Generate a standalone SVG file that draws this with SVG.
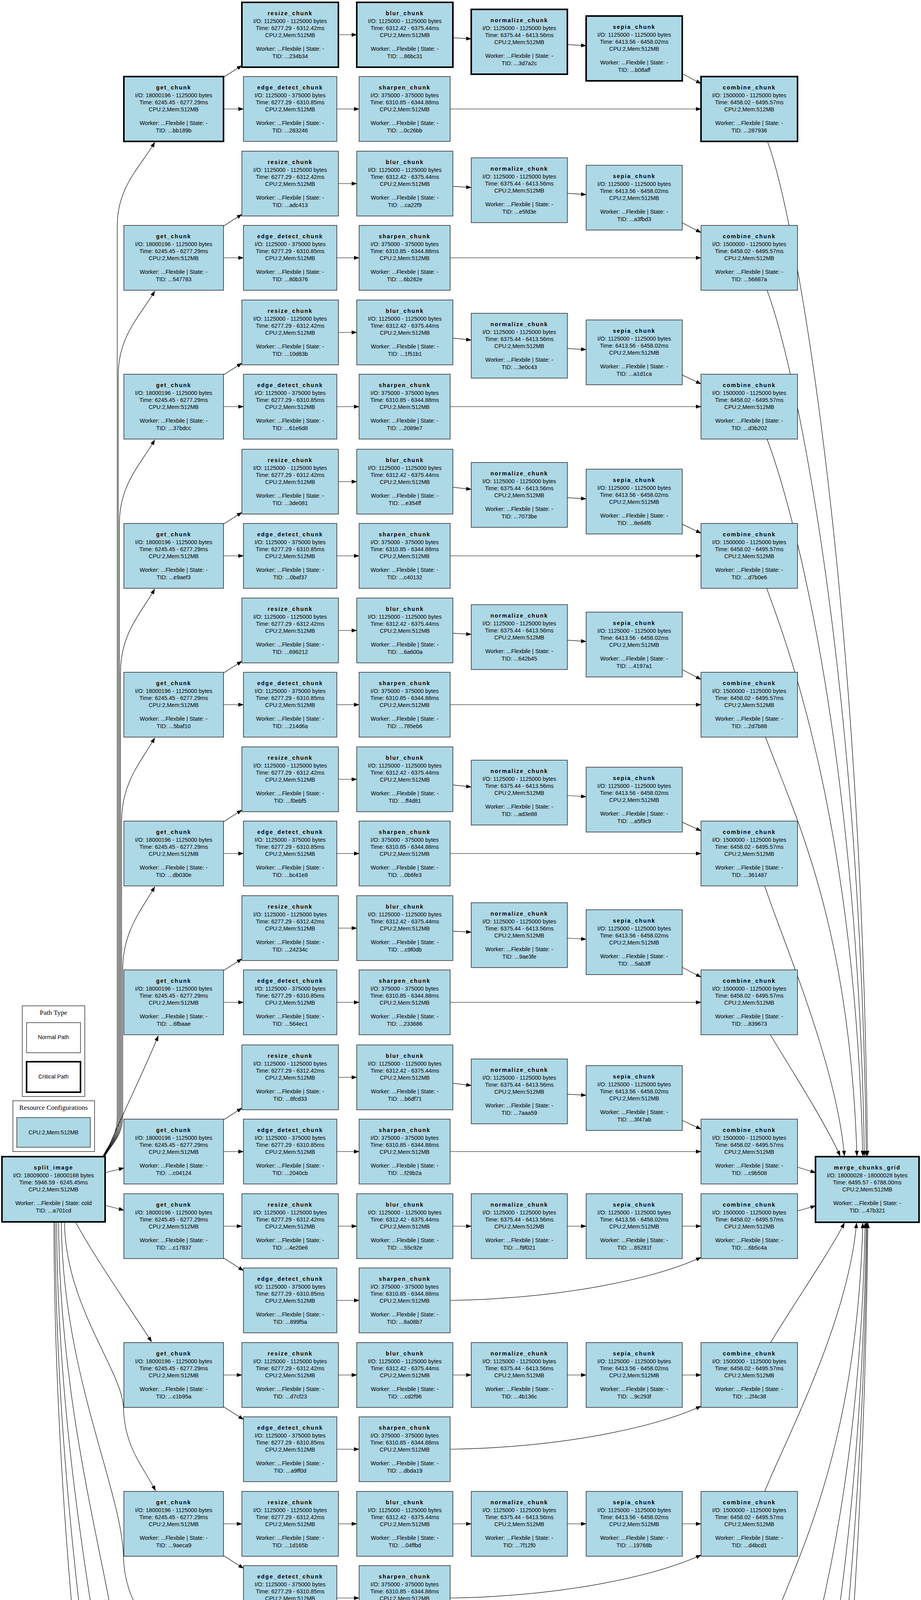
<svg xmlns="http://www.w3.org/2000/svg" width="2357" height="6088" viewBox="0 0 2357 6088">
<defs>
<style>
.n{fill:#add8e6;stroke:#1a1a1a;stroke-width:1.4}
.c{fill:#add8e6;stroke:#000;stroke-width:4}
text{font-family:"Liberation Sans",Arial,Helvetica,sans-serif;font-size:14.4px;text-anchor:middle;fill:#000}
.t{font-weight:bold;letter-spacing:2px}
.lg{font-family:"Liberation Serif","Times New Roman",serif;font-size:17.6px}
.box{fill:#fff;stroke:#000;stroke-width:1.2}
</style>
<marker id="a" viewBox="0 0 14 10" refX="13" refY="5" markerWidth="14" markerHeight="10" markerUnits="userSpaceOnUse" orient="auto"><path d="M0,0 L14,5 L0,10 z" fill="#000" stroke="none"/></marker>
</defs>
<rect width="2357" height="6088" fill="#fff"/>

<g id="legend">
<g id="legend_path_type">
<rect class="box" x="57" y="2575" width="160" height="232"/>
<text class="lg" x="137" y="2598">Path Type</text>
<rect class="box" x="68" y="2618" width="138" height="77"/>
<text x="137" y="2660">Normal Path</text>
<rect x="68" y="2718" width="138" height="78" fill="#fff" stroke="#000" stroke-width="4"/>
<text x="137" y="2761">Critical Path</text>
</g>
<g id="legend_resources">
<rect class="box" x="33" y="2818" width="209" height="130"/>
<text class="lg" x="137" y="2841">Resource Configurations</text>
<rect x="43" y="2861" width="188" height="76" fill="#add8e6" stroke="#000" stroke-width="1.2"/>
<text x="137" y="2904">CPU:2,Mem:512MB</text>
</g>
</g>

<g id="connectors" fill="none" stroke="#000" stroke-width="1.2" marker-end="url(#a)">
<!-- split_image to get_chunk -->
<path d="M263,2961 C275,2935 300,2910 300,2860 L300,577 C300,477 362,424 396,364"/>
<path d="M264,2961 C276,2935 302.8,2910 302.8,2860 L302.8,958 C302.8,858 362,805 396,745"/>
<path d="M265,2961 C277,2935 305.6,2910 305.6,2860 L305.6,1339 C305.6,1239 362,1186 396,1126"/>
<path d="M266,2961 C278,2935 308.4,2910 308.4,2860 L308.4,1721 C308.4,1621 362,1568 396,1508"/>
<path d="M267,2961 C279,2935 311.2,2910 311.2,2860 L311.2,2102 C311.2,2002 362,1949 396,1889"/>
<path d="M268,2961 C280,2935 314,2910 314,2860 L314,2483 C314,2383 362,2330 396,2270"/>
<path d="M268,2960 C300,2880 365,2750 405,2652"/>
<path d="M270,3002 L317,2990"/>
<path d="M270,3086 L317,3098"/>
<path d="M193,3128 C240,3215 330,3345 388,3435"/>
<path d="M165,3128 C167,3342 312,3508 316,3603 C318,3703 365,3753 398,3816"/>
<path d="M157,3128 C159,3514 312,3814 316,3985 C318,4085 365,4135 398,4198"/>
<path d="M150,3128 C152,3685 312,4118 316,4366 C318,4466 365,4516 398,4579"/>
<path d="M145,3128 C147,3857 312,4423 316,4747 C318,4847 365,4897 398,4960"/>
<path d="M141,3128 C143,4028 312,4728 316,5128 C318,5228 365,5278 398,5341"/>
<path d="M138,3128 C140,4200 312,5034 316,5510 C318,5610 365,5660 398,5723"/>
<!-- row 0 -->
<path d="M572,197.7 L619,167.7"/><path d="M572,279 L623,279"/><path d="M866,89 L913,89"/><path d="M862,279 L919,279"/>
<path d="M1159,96.6 L1206,99.4"/><path d="M1452,114.1 L1500,116.9"/><path d="M1746,188.7 L1794,214"/><path d="M1152,279 L1794,279"/>
<!-- row 1 -->
<path d="M572,578.7 L619,548.7"/><path d="M572,660 L623,660"/><path d="M866,470 L913,470"/><path d="M862,660 L919,660"/>
<path d="M1159,477.1 L1206,479.9"/><path d="M1452,494.9 L1500,498.1"/><path d="M1746,570.3 L1794,595.4"/><path d="M1152,660 L1794,660"/>
<!-- row 2 -->
<path d="M572,959.7 L619,929.7"/><path d="M572,1041 L623,1041"/><path d="M866,851 L913,851"/><path d="M862,1041 L919,1041"/>
<path d="M1159,865.3 L1206,870.7"/><path d="M1452,892.1 L1500,894.9"/><path d="M1746,960.1 L1794,982.7"/><path d="M1152,1041 L1794,1041"/>
<!-- row 3 -->
<path d="M572,1341.7 L619,1311.7"/><path d="M572,1423 L623,1423"/><path d="M866,1233 L913,1233"/><path d="M862,1423 L919,1423"/>
<path d="M1159,1247.3 L1206,1252.7"/><path d="M1452,1274.1 L1500,1276.9"/><path d="M1746,1342.1 L1794,1364.7"/><path d="M1152,1423 L1794,1423"/>
<!-- row 4 -->
<path d="M572,1722.7 L619,1692.7"/><path d="M572,1804 L623,1804"/><path d="M866,1614 L913,1614"/><path d="M862,1804 L919,1804"/>
<path d="M1159,1621.1 L1206,1623.9"/><path d="M1452,1638.9 L1500,1642.1"/><path d="M1746,1714.3 L1794,1739.4"/><path d="M1152,1804 L1794,1804"/>
<!-- row 5 -->
<path d="M572,2103.7 L619,2073.7"/><path d="M572,2185 L623,2185"/><path d="M866,1995 L913,1995"/><path d="M862,2185 L919,2185"/>
<path d="M1159,2009.3 L1206,2014.7"/><path d="M1452,2036.5 L1500,2039.5"/><path d="M1746,2104.6 L1794,2127.1"/><path d="M1152,2185 L1794,2185"/>
<!-- row 6 -->
<path d="M572,2484.7 L619,2454.7"/><path d="M572,2566 L623,2566"/><path d="M866,2376 L913,2376"/><path d="M862,2566 L919,2566"/>
<path d="M1159,2383.6 L1206,2386.4"/><path d="M1452,2401.5 L1500,2404.5"/><path d="M1746,2476.3 L1794,2501.4"/><path d="M1152,2566 L1794,2566"/>
<!-- row 7 -->
<path d="M572,2866.7 L619,2836.7"/><path d="M572,2948 L623,2948"/><path d="M866,2758 L913,2758"/><path d="M862,2948 L919,2948"/>
<path d="M1159,2773.1 L1206,2778.9"/><path d="M1452,2801.1 L1500,2803.9"/><path d="M1746,2868.2 L1794,2890.5"/><path d="M1152,2948 L1794,2948"/>
<!-- row 8 -->
<path d="M572,3139 L619,3139"/><path d="M572,3220.3 L623,3252.8"/><path d="M866,3139 L913,3139"/><path d="M1159,3139 L1206,3139"/><path d="M1452,3139 L1500,3139"/><path d="M1746,3139 L1794,3139"/><path d="M862,3329 L919,3329"/><path d="M1152,3329 C1450,3324 1680,3271 1794,3219"/>
<!-- row 9 -->
<path d="M572,3520 L619,3520"/><path d="M572,3601.3 L623,3633.8"/><path d="M866,3520 L913,3520"/><path d="M1159,3520 L1206,3520"/><path d="M1452,3520 L1500,3520"/><path d="M1746,3520 L1794,3520"/><path d="M862,3710 L919,3710"/><path d="M1152,3710 C1450,3705 1680,3652 1794,3600"/>
<!-- row 10 -->
<path d="M572,3901 L619,3901"/><path d="M572,3982.3 L623,4014.8"/><path d="M866,3901 L913,3901"/><path d="M1159,3901 L1206,3901"/><path d="M1452,3901 L1500,3901"/><path d="M1746,3901 L1794,3901"/><path d="M862,4091 L919,4091"/><path d="M1152,4091 C1450,4086 1680,4033 1794,3981"/>
<!-- row 11 -->
<path d="M572,4283 L619,4283"/><path d="M572,4364.3 L623,4396.8"/><path d="M866,4283 L913,4283"/><path d="M1159,4283 L1206,4283"/><path d="M1452,4283 L1500,4283"/><path d="M1746,4283 L1794,4283"/><path d="M862,4473 L919,4473"/><path d="M1152,4473 C1450,4468 1680,4415 1794,4363"/>
<!-- row 12 -->
<path d="M572,4664 L619,4664"/><path d="M572,4745.3 L623,4777.8"/><path d="M866,4664 L913,4664"/><path d="M1159,4664 L1206,4664"/><path d="M1452,4664 L1500,4664"/><path d="M1746,4664 L1794,4664"/><path d="M862,4854 L919,4854"/><path d="M1152,4854 C1450,4849 1680,4796 1794,4744"/>
<!-- row 13 -->
<path d="M572,5045 L619,5045"/><path d="M572,5126.3 L623,5158.8"/><path d="M866,5045 L913,5045"/><path d="M1159,5045 L1206,5045"/><path d="M1452,5045 L1500,5045"/><path d="M1746,5045 L1794,5045"/><path d="M862,5235 L919,5235"/><path d="M1152,5235 C1450,5230 1680,5177 1794,5125"/>
<!-- row 14 -->
<path d="M572,5426 L619,5426"/><path d="M572,5507.3 L623,5539.8"/><path d="M866,5426 L913,5426"/><path d="M1159,5426 L1206,5426"/><path d="M1452,5426 L1500,5426"/><path d="M1746,5426 L1794,5426"/><path d="M862,5616 L919,5616"/><path d="M1152,5616 C1450,5611 1680,5558 1794,5506"/>
<!-- row 15 -->
<path d="M572,5808 L619,5808"/><path d="M572,5889.3 L623,5921.8"/><path d="M866,5808 L913,5808"/><path d="M1159,5808 L1206,5808"/><path d="M1452,5808 L1500,5808"/><path d="M1746,5808 L1794,5808"/><path d="M862,5998 L919,5998"/><path d="M1152,5998 C1450,5993 1680,5940 1794,5888"/>
<!-- combine_chunk to merge_chunks_grid -->
<path d="M1964,362 C2039,562 2207,1531 2220,2959"/>
<path d="M1963,743 C2038,943 2203,1740 2217,2959"/>
<path d="M1963,1124 C2038,1324 2197,1950 2212,2959"/>
<path d="M1962,1506 C2037,1706 2190,2160 2208,2959"/>
<path d="M1959,1887 C2034,2087 2175,2369 2193,2959"/>
<path d="M1957,2268 C2000,2400 2140,2720 2161,2959"/>
<path d="M1972,2650 C2020,2730 2110,2870 2150,2959"/>
<path d="M2041,2988 L2087,3002"/>
<path d="M2041,3100 L2087,3087"/>
<path d="M1972,3437 C2020,3356 2120,3210 2161,3131"/>
<path d="M1957,3818 C2010,3686 2170,3386 2192,3131"/>
<path d="M1960,4200 C2035,4000 2193,3719 2208,3131"/>
<path d="M1962,4581 C2037,4381 2200,3929 2214,3131"/>
<path d="M1963,4962 C2038,4762 2203,4138 2217,3131"/>
<path d="M1963,5343 C2038,5143 2205,4348 2219,3131"/>
<path d="M1964,5725 C2039,5525 2207,4558 2221,3131"/>
</g>

<g id="nodes">
<g id="split_image" transform="translate(5,2961)"><rect class="c" width="264" height="167"/><text class="t" x="132" y="33">split_image</text><text><tspan x="132" y="53">I/O: 18009000 - 18000168 bytes</tspan><tspan x="132" y="71">Time: 5946.59 - 6245.45ms</tspan><tspan x="132" y="88.5">CPU:2,Mem:512MB</tspan><tspan x="132" y="124">Worker: ...Flexbile | State: cold</tspan><tspan x="132" y="142.5">TID: ...a701cd</tspan></text></g>
<g id="merge_chunks_grid" transform="translate(2087,2961)"><rect class="c" width="265" height="168"/><text class="t" x="132.5" y="33">merge_chunks_grid</text><text><tspan x="132.5" y="53">I/O: 18000028 - 18000028 bytes</tspan><tspan x="132.5" y="71">Time: 6495.57 - 6788.00ms</tspan><tspan x="132.5" y="88.5">CPU:2,Mem:512MB</tspan><tspan x="132.5" y="124">Worker: ...Flexbile | State: -</tspan><tspan x="132.5" y="142.5">TID: ...47b321</tspan></text></g>

<!-- ROW 0 -->
<g id="get_chunk_0" transform="translate(317,196)"><rect class="c" width="255" height="166"/><text class="t" x="127.5" y="33">get_chunk</text><text><tspan x="127.5" y="53">I/O: 18000196 - 1125000 bytes</tspan><tspan x="127.5" y="71">Time: 6245.45 - 6277.29ms</tspan><tspan x="127.5" y="88.5">CPU:2,Mem:512MB</tspan><tspan x="127.5" y="124">Worker: ...Flexbile | State: -</tspan><tspan x="127.5" y="142.5">TID: ...bb189b</tspan></text></g>
<g id="resize_chunk_0" transform="translate(619,6)"><rect class="c" width="247" height="166"/><text class="t" x="123.5" y="33">resize_chunk</text><text><tspan x="123.5" y="53">I/O: 1125000 - 1125000 bytes</tspan><tspan x="123.5" y="71">Time: 6277.29 - 6312.42ms</tspan><tspan x="123.5" y="88.5">CPU:2,Mem:512MB</tspan><tspan x="123.5" y="124">Worker: ...Flexbile | State: -</tspan><tspan x="123.5" y="142.5">TID: ...234b34</tspan></text></g>
<g id="edge_detect_chunk_0" transform="translate(623,196)"><rect class="n" width="239" height="166"/><text class="t" x="119.5" y="33">edge_detect_chunk</text><text><tspan x="119.5" y="53">I/O: 1125000 - 375000 bytes</tspan><tspan x="119.5" y="71">Time: 6277.29 - 6310.85ms</tspan><tspan x="119.5" y="88.5">CPU:2,Mem:512MB</tspan><tspan x="119.5" y="124">Worker: ...Flexbile | State: -</tspan><tspan x="119.5" y="142.5">TID: ...283246</tspan></text></g>
<g id="blur_chunk_0" transform="translate(913,6)"><rect class="c" width="246" height="166"/><text class="t" x="123" y="33">blur_chunk</text><text><tspan x="123" y="53">I/O: 1125000 - 1125000 bytes</tspan><tspan x="123" y="71">Time: 6312.42 - 6375.44ms</tspan><tspan x="123" y="88.5">CPU:2,Mem:512MB</tspan><tspan x="123" y="124">Worker: ...Flexbile | State: -</tspan><tspan x="123" y="142.5">TID: ...86bc31</tspan></text></g>
<g id="sharpen_chunk_0" transform="translate(919,196)"><rect class="n" width="233" height="166"/><text class="t" x="116.5" y="33">sharpen_chunk</text><text><tspan x="116.5" y="53">I/O: 375000 - 375000 bytes</tspan><tspan x="116.5" y="71">Time: 6310.85 - 6344.88ms</tspan><tspan x="116.5" y="88.5">CPU:2,Mem:512MB</tspan><tspan x="116.5" y="124">Worker: ...Flexbile | State: -</tspan><tspan x="116.5" y="142.5">TID: ...0c26bb</tspan></text></g>
<g id="normalize_chunk_0" transform="translate(1206,24)"><rect class="c" width="246" height="166"/><text class="t" x="123" y="33">normalize_chunk</text><text><tspan x="123" y="53">I/O: 1125000 - 1125000 bytes</tspan><tspan x="123" y="71">Time: 6375.44 - 6413.56ms</tspan><tspan x="123" y="88.5">CPU:2,Mem:512MB</tspan><tspan x="123" y="124">Worker: ...Flexbile | State: -</tspan><tspan x="123" y="142.5">TID: ...3d7a2c</tspan></text></g>
<g id="sepia_chunk_0" transform="translate(1500,41)"><rect class="c" width="246" height="166"/><text class="t" x="123" y="33">sepia_chunk</text><text><tspan x="123" y="53">I/O: 1125000 - 1125000 bytes</tspan><tspan x="123" y="71">Time: 6413.56 - 6458.02ms</tspan><tspan x="123" y="88.5">CPU:2,Mem:512MB</tspan><tspan x="123" y="124">Worker: ...Flexbile | State: -</tspan><tspan x="123" y="142.5">TID: ...b08aff</tspan></text></g>
<g id="combine_chunk_0" transform="translate(1794,196)"><rect class="c" width="247" height="166"/><text class="t" x="123.5" y="33">combine_chunk</text><text><tspan x="123.5" y="53">I/O: 1500000 - 1125000 bytes</tspan><tspan x="123.5" y="71">Time: 6458.02 - 6495.57ms</tspan><tspan x="123.5" y="88.5">CPU:2,Mem:512MB</tspan><tspan x="123.5" y="124">Worker: ...Flexbile | State: -</tspan><tspan x="123.5" y="142.5">TID: ...287936</tspan></text></g>

<!-- ROW 1 -->
<g id="get_chunk_1" transform="translate(317,577)"><rect class="n" width="255" height="166"/><text class="t" x="127.5" y="33">get_chunk</text><text><tspan x="127.5" y="53">I/O: 18000196 - 1125000 bytes</tspan><tspan x="127.5" y="71">Time: 6245.45 - 6277.29ms</tspan><tspan x="127.5" y="88.5">CPU:2,Mem:512MB</tspan><tspan x="127.5" y="124">Worker: ...Flexbile | State: -</tspan><tspan x="127.5" y="142.5">TID: ...547783</tspan></text></g>
<g id="resize_chunk_1" transform="translate(619,387)"><rect class="n" width="247" height="166"/><text class="t" x="123.5" y="33">resize_chunk</text><text><tspan x="123.5" y="53">I/O: 1125000 - 1125000 bytes</tspan><tspan x="123.5" y="71">Time: 6277.29 - 6312.42ms</tspan><tspan x="123.5" y="88.5">CPU:2,Mem:512MB</tspan><tspan x="123.5" y="124">Worker: ...Flexbile | State: -</tspan><tspan x="123.5" y="142.5">TID: ...adc413</tspan></text></g>
<g id="edge_detect_chunk_1" transform="translate(623,577)"><rect class="n" width="239" height="166"/><text class="t" x="119.5" y="33">edge_detect_chunk</text><text><tspan x="119.5" y="53">I/O: 1125000 - 375000 bytes</tspan><tspan x="119.5" y="71">Time: 6277.29 - 6310.85ms</tspan><tspan x="119.5" y="88.5">CPU:2,Mem:512MB</tspan><tspan x="119.5" y="124">Worker: ...Flexbile | State: -</tspan><tspan x="119.5" y="142.5">TID: ...80b376</tspan></text></g>
<g id="blur_chunk_1" transform="translate(913,387)"><rect class="n" width="246" height="166"/><text class="t" x="123" y="33">blur_chunk</text><text><tspan x="123" y="53">I/O: 1125000 - 1125000 bytes</tspan><tspan x="123" y="71">Time: 6312.42 - 6375.44ms</tspan><tspan x="123" y="88.5">CPU:2,Mem:512MB</tspan><tspan x="123" y="124">Worker: ...Flexbile | State: -</tspan><tspan x="123" y="142.5">TID: ...ca22f9</tspan></text></g>
<g id="sharpen_chunk_1" transform="translate(919,577)"><rect class="n" width="233" height="166"/><text class="t" x="116.5" y="33">sharpen_chunk</text><text><tspan x="116.5" y="53">I/O: 375000 - 375000 bytes</tspan><tspan x="116.5" y="71">Time: 6310.85 - 6344.88ms</tspan><tspan x="116.5" y="88.5">CPU:2,Mem:512MB</tspan><tspan x="116.5" y="124">Worker: ...Flexbile | State: -</tspan><tspan x="116.5" y="142.5">TID: ...6b282e</tspan></text></g>
<g id="normalize_chunk_1" transform="translate(1206,404)"><rect class="n" width="246" height="166"/><text class="t" x="123" y="33">normalize_chunk</text><text><tspan x="123" y="53">I/O: 1125000 - 1125000 bytes</tspan><tspan x="123" y="71">Time: 6375.44 - 6413.56ms</tspan><tspan x="123" y="88.5">CPU:2,Mem:512MB</tspan><tspan x="123" y="124">Worker: ...Flexbile | State: -</tspan><tspan x="123" y="142.5">TID: ...e5fd3e</tspan></text></g>
<g id="sepia_chunk_1" transform="translate(1500,423)"><rect class="n" width="246" height="166"/><text class="t" x="123" y="33">sepia_chunk</text><text><tspan x="123" y="53">I/O: 1125000 - 1125000 bytes</tspan><tspan x="123" y="71">Time: 6413.56 - 6458.02ms</tspan><tspan x="123" y="88.5">CPU:2,Mem:512MB</tspan><tspan x="123" y="124">Worker: ...Flexbile | State: -</tspan><tspan x="123" y="142.5">TID: ...a3fbd3</tspan></text></g>
<g id="combine_chunk_1" transform="translate(1794,577)"><rect class="n" width="247" height="166"/><text class="t" x="123.5" y="33">combine_chunk</text><text><tspan x="123.5" y="53">I/O: 1500000 - 1125000 bytes</tspan><tspan x="123.5" y="71">Time: 6458.02 - 6495.57ms</tspan><tspan x="123.5" y="88.5">CPU:2,Mem:512MB</tspan><tspan x="123.5" y="124">Worker: ...Flexbile | State: -</tspan><tspan x="123.5" y="142.5">TID: ...56887a</tspan></text></g>

<!-- ROW 2 -->
<g id="get_chunk_2" transform="translate(317,958)"><rect class="n" width="255" height="166"/><text class="t" x="127.5" y="33">get_chunk</text><text><tspan x="127.5" y="53">I/O: 18000196 - 1125000 bytes</tspan><tspan x="127.5" y="71">Time: 6245.45 - 6277.29ms</tspan><tspan x="127.5" y="88.5">CPU:2,Mem:512MB</tspan><tspan x="127.5" y="124">Worker: ...Flexbile | State: -</tspan><tspan x="127.5" y="142.5">TID: ...37bdcc</tspan></text></g>
<g id="resize_chunk_2" transform="translate(619,768)"><rect class="n" width="247" height="166"/><text class="t" x="123.5" y="33">resize_chunk</text><text><tspan x="123.5" y="53">I/O: 1125000 - 1125000 bytes</tspan><tspan x="123.5" y="71">Time: 6277.29 - 6312.42ms</tspan><tspan x="123.5" y="88.5">CPU:2,Mem:512MB</tspan><tspan x="123.5" y="124">Worker: ...Flexbile | State: -</tspan><tspan x="123.5" y="142.5">TID: ...10d83b</tspan></text></g>
<g id="edge_detect_chunk_2" transform="translate(623,958)"><rect class="n" width="239" height="166"/><text class="t" x="119.5" y="33">edge_detect_chunk</text><text><tspan x="119.5" y="53">I/O: 1125000 - 375000 bytes</tspan><tspan x="119.5" y="71">Time: 6277.29 - 6310.85ms</tspan><tspan x="119.5" y="88.5">CPU:2,Mem:512MB</tspan><tspan x="119.5" y="124">Worker: ...Flexbile | State: -</tspan><tspan x="119.5" y="142.5">TID: ...61e6d8</tspan></text></g>
<g id="blur_chunk_2" transform="translate(913,768)"><rect class="n" width="246" height="166"/><text class="t" x="123" y="33">blur_chunk</text><text><tspan x="123" y="53">I/O: 1125000 - 1125000 bytes</tspan><tspan x="123" y="71">Time: 6312.42 - 6375.44ms</tspan><tspan x="123" y="88.5">CPU:2,Mem:512MB</tspan><tspan x="123" y="124">Worker: ...Flexbile | State: -</tspan><tspan x="123" y="142.5">TID: ...1f51b1</tspan></text></g>
<g id="sharpen_chunk_2" transform="translate(919,958)"><rect class="n" width="233" height="166"/><text class="t" x="116.5" y="33">sharpen_chunk</text><text><tspan x="116.5" y="53">I/O: 375000 - 375000 bytes</tspan><tspan x="116.5" y="71">Time: 6310.85 - 6344.88ms</tspan><tspan x="116.5" y="88.5">CPU:2,Mem:512MB</tspan><tspan x="116.5" y="124">Worker: ...Flexbile | State: -</tspan><tspan x="116.5" y="142.5">TID: ...2089e7</tspan></text></g>
<g id="normalize_chunk_2" transform="translate(1206,802)"><rect class="n" width="246" height="166"/><text class="t" x="123" y="33">normalize_chunk</text><text><tspan x="123" y="53">I/O: 1125000 - 1125000 bytes</tspan><tspan x="123" y="71">Time: 6375.44 - 6413.56ms</tspan><tspan x="123" y="88.5">CPU:2,Mem:512MB</tspan><tspan x="123" y="124">Worker: ...Flexbile | State: -</tspan><tspan x="123" y="142.5">TID: ...3e0c43</tspan></text></g>
<g id="sepia_chunk_2" transform="translate(1500,819)"><rect class="n" width="246" height="166"/><text class="t" x="123" y="33">sepia_chunk</text><text><tspan x="123" y="53">I/O: 1125000 - 1125000 bytes</tspan><tspan x="123" y="71">Time: 6413.56 - 6458.02ms</tspan><tspan x="123" y="88.5">CPU:2,Mem:512MB</tspan><tspan x="123" y="124">Worker: ...Flexbile | State: -</tspan><tspan x="123" y="142.5">TID: ...a1d1ca</tspan></text></g>
<g id="combine_chunk_2" transform="translate(1794,958)"><rect class="n" width="247" height="166"/><text class="t" x="123.5" y="33">combine_chunk</text><text><tspan x="123.5" y="53">I/O: 1500000 - 1125000 bytes</tspan><tspan x="123.5" y="71">Time: 6458.02 - 6495.57ms</tspan><tspan x="123.5" y="88.5">CPU:2,Mem:512MB</tspan><tspan x="123.5" y="124">Worker: ...Flexbile | State: -</tspan><tspan x="123.5" y="142.5">TID: ...d3b202</tspan></text></g>

<!-- ROW 3 -->
<g id="get_chunk_3" transform="translate(317,1340)"><rect class="n" width="255" height="166"/><text class="t" x="127.5" y="33">get_chunk</text><text><tspan x="127.5" y="53">I/O: 18000196 - 1125000 bytes</tspan><tspan x="127.5" y="71">Time: 6245.45 - 6277.29ms</tspan><tspan x="127.5" y="88.5">CPU:2,Mem:512MB</tspan><tspan x="127.5" y="124">Worker: ...Flexbile | State: -</tspan><tspan x="127.5" y="142.5">TID: ...e9aef3</tspan></text></g>
<g id="resize_chunk_3" transform="translate(619,1150)"><rect class="n" width="247" height="166"/><text class="t" x="123.5" y="33">resize_chunk</text><text><tspan x="123.5" y="53">I/O: 1125000 - 1125000 bytes</tspan><tspan x="123.5" y="71">Time: 6277.29 - 6312.42ms</tspan><tspan x="123.5" y="88.5">CPU:2,Mem:512MB</tspan><tspan x="123.5" y="124">Worker: ...Flexbile | State: -</tspan><tspan x="123.5" y="142.5">TID: ...3de081</tspan></text></g>
<g id="edge_detect_chunk_3" transform="translate(623,1340)"><rect class="n" width="239" height="166"/><text class="t" x="119.5" y="33">edge_detect_chunk</text><text><tspan x="119.5" y="53">I/O: 1125000 - 375000 bytes</tspan><tspan x="119.5" y="71">Time: 6277.29 - 6310.85ms</tspan><tspan x="119.5" y="88.5">CPU:2,Mem:512MB</tspan><tspan x="119.5" y="124">Worker: ...Flexbile | State: -</tspan><tspan x="119.5" y="142.5">TID: ...0baf37</tspan></text></g>
<g id="blur_chunk_3" transform="translate(913,1150)"><rect class="n" width="246" height="166"/><text class="t" x="123" y="33">blur_chunk</text><text><tspan x="123" y="53">I/O: 1125000 - 1125000 bytes</tspan><tspan x="123" y="71">Time: 6312.42 - 6375.44ms</tspan><tspan x="123" y="88.5">CPU:2,Mem:512MB</tspan><tspan x="123" y="124">Worker: ...Flexbile | State: -</tspan><tspan x="123" y="142.5">TID: ...e354ff</tspan></text></g>
<g id="sharpen_chunk_3" transform="translate(919,1340)"><rect class="n" width="233" height="166"/><text class="t" x="116.5" y="33">sharpen_chunk</text><text><tspan x="116.5" y="53">I/O: 375000 - 375000 bytes</tspan><tspan x="116.5" y="71">Time: 6310.85 - 6344.88ms</tspan><tspan x="116.5" y="88.5">CPU:2,Mem:512MB</tspan><tspan x="116.5" y="124">Worker: ...Flexbile | State: -</tspan><tspan x="116.5" y="142.5">TID: ...c40132</tspan></text></g>
<g id="normalize_chunk_3" transform="translate(1206,1184)"><rect class="n" width="246" height="166"/><text class="t" x="123" y="33">normalize_chunk</text><text><tspan x="123" y="53">I/O: 1125000 - 1125000 bytes</tspan><tspan x="123" y="71">Time: 6375.44 - 6413.56ms</tspan><tspan x="123" y="88.5">CPU:2,Mem:512MB</tspan><tspan x="123" y="124">Worker: ...Flexbile | State: -</tspan><tspan x="123" y="142.5">TID: ...7073be</tspan></text></g>
<g id="sepia_chunk_3" transform="translate(1500,1201)"><rect class="n" width="246" height="166"/><text class="t" x="123" y="33">sepia_chunk</text><text><tspan x="123" y="53">I/O: 1125000 - 1125000 bytes</tspan><tspan x="123" y="71">Time: 6413.56 - 6458.02ms</tspan><tspan x="123" y="88.5">CPU:2,Mem:512MB</tspan><tspan x="123" y="124">Worker: ...Flexbile | State: -</tspan><tspan x="123" y="142.5">TID: ...8e84f6</tspan></text></g>
<g id="combine_chunk_3" transform="translate(1794,1340)"><rect class="n" width="247" height="166"/><text class="t" x="123.5" y="33">combine_chunk</text><text><tspan x="123.5" y="53">I/O: 1500000 - 1125000 bytes</tspan><tspan x="123.5" y="71">Time: 6458.02 - 6495.57ms</tspan><tspan x="123.5" y="88.5">CPU:2,Mem:512MB</tspan><tspan x="123.5" y="124">Worker: ...Flexbile | State: -</tspan><tspan x="123.5" y="142.5">TID: ...d7b0e6</tspan></text></g>

<!-- ROW 4 -->
<g id="get_chunk_4" transform="translate(317,1721)"><rect class="n" width="255" height="166"/><text class="t" x="127.5" y="33">get_chunk</text><text><tspan x="127.5" y="53">I/O: 18000196 - 1125000 bytes</tspan><tspan x="127.5" y="71">Time: 6245.45 - 6277.29ms</tspan><tspan x="127.5" y="88.5">CPU:2,Mem:512MB</tspan><tspan x="127.5" y="124">Worker: ...Flexbile | State: -</tspan><tspan x="127.5" y="142.5">TID: ...5baf10</tspan></text></g>
<g id="resize_chunk_4" transform="translate(619,1531)"><rect class="n" width="247" height="166"/><text class="t" x="123.5" y="33">resize_chunk</text><text><tspan x="123.5" y="53">I/O: 1125000 - 1125000 bytes</tspan><tspan x="123.5" y="71">Time: 6277.29 - 6312.42ms</tspan><tspan x="123.5" y="88.5">CPU:2,Mem:512MB</tspan><tspan x="123.5" y="124">Worker: ...Flexbile | State: -</tspan><tspan x="123.5" y="142.5">TID: ...696212</tspan></text></g>
<g id="edge_detect_chunk_4" transform="translate(623,1721)"><rect class="n" width="239" height="166"/><text class="t" x="119.5" y="33">edge_detect_chunk</text><text><tspan x="119.5" y="53">I/O: 1125000 - 375000 bytes</tspan><tspan x="119.5" y="71">Time: 6277.29 - 6310.85ms</tspan><tspan x="119.5" y="88.5">CPU:2,Mem:512MB</tspan><tspan x="119.5" y="124">Worker: ...Flexbile | State: -</tspan><tspan x="119.5" y="142.5">TID: ...214d6a</tspan></text></g>
<g id="blur_chunk_4" transform="translate(913,1531)"><rect class="n" width="246" height="166"/><text class="t" x="123" y="33">blur_chunk</text><text><tspan x="123" y="53">I/O: 1125000 - 1125000 bytes</tspan><tspan x="123" y="71">Time: 6312.42 - 6375.44ms</tspan><tspan x="123" y="88.5">CPU:2,Mem:512MB</tspan><tspan x="123" y="124">Worker: ...Flexbile | State: -</tspan><tspan x="123" y="142.5">TID: ...6a600a</tspan></text></g>
<g id="sharpen_chunk_4" transform="translate(919,1721)"><rect class="n" width="233" height="166"/><text class="t" x="116.5" y="33">sharpen_chunk</text><text><tspan x="116.5" y="53">I/O: 375000 - 375000 bytes</tspan><tspan x="116.5" y="71">Time: 6310.85 - 6344.88ms</tspan><tspan x="116.5" y="88.5">CPU:2,Mem:512MB</tspan><tspan x="116.5" y="124">Worker: ...Flexbile | State: -</tspan><tspan x="116.5" y="142.5">TID: ...785eb6</tspan></text></g>
<g id="normalize_chunk_4" transform="translate(1206,1548)"><rect class="n" width="246" height="166"/><text class="t" x="123" y="33">normalize_chunk</text><text><tspan x="123" y="53">I/O: 1125000 - 1125000 bytes</tspan><tspan x="123" y="71">Time: 6375.44 - 6413.56ms</tspan><tspan x="123" y="88.5">CPU:2,Mem:512MB</tspan><tspan x="123" y="124">Worker: ...Flexbile | State: -</tspan><tspan x="123" y="142.5">TID: ...642b45</tspan></text></g>
<g id="sepia_chunk_4" transform="translate(1500,1567)"><rect class="n" width="246" height="166"/><text class="t" x="123" y="33">sepia_chunk</text><text><tspan x="123" y="53">I/O: 1125000 - 1125000 bytes</tspan><tspan x="123" y="71">Time: 6413.56 - 6458.02ms</tspan><tspan x="123" y="88.5">CPU:2,Mem:512MB</tspan><tspan x="123" y="124">Worker: ...Flexbile | State: -</tspan><tspan x="123" y="142.5">TID: ...4197a1</tspan></text></g>
<g id="combine_chunk_4" transform="translate(1794,1721)"><rect class="n" width="247" height="166"/><text class="t" x="123.5" y="33">combine_chunk</text><text><tspan x="123.5" y="53">I/O: 1500000 - 1125000 bytes</tspan><tspan x="123.5" y="71">Time: 6458.02 - 6495.57ms</tspan><tspan x="123.5" y="88.5">CPU:2,Mem:512MB</tspan><tspan x="123.5" y="124">Worker: ...Flexbile | State: -</tspan><tspan x="123.5" y="142.5">TID: ...2d7b88</tspan></text></g>

<!-- ROW 5 -->
<g id="get_chunk_5" transform="translate(317,2102)"><rect class="n" width="255" height="166"/><text class="t" x="127.5" y="33">get_chunk</text><text><tspan x="127.5" y="53">I/O: 18000196 - 1125000 bytes</tspan><tspan x="127.5" y="71">Time: 6245.45 - 6277.29ms</tspan><tspan x="127.5" y="88.5">CPU:2,Mem:512MB</tspan><tspan x="127.5" y="124">Worker: ...Flexbile | State: -</tspan><tspan x="127.5" y="142.5">TID: ...db030e</tspan></text></g>
<g id="resize_chunk_5" transform="translate(619,1912)"><rect class="n" width="247" height="166"/><text class="t" x="123.5" y="33">resize_chunk</text><text><tspan x="123.5" y="53">I/O: 1125000 - 1125000 bytes</tspan><tspan x="123.5" y="71">Time: 6277.29 - 6312.42ms</tspan><tspan x="123.5" y="88.5">CPU:2,Mem:512MB</tspan><tspan x="123.5" y="124">Worker: ...Flexbile | State: -</tspan><tspan x="123.5" y="142.5">TID: ...f0ebf5</tspan></text></g>
<g id="edge_detect_chunk_5" transform="translate(623,2102)"><rect class="n" width="239" height="166"/><text class="t" x="119.5" y="33">edge_detect_chunk</text><text><tspan x="119.5" y="53">I/O: 1125000 - 375000 bytes</tspan><tspan x="119.5" y="71">Time: 6277.29 - 6310.85ms</tspan><tspan x="119.5" y="88.5">CPU:2,Mem:512MB</tspan><tspan x="119.5" y="124">Worker: ...Flexbile | State: -</tspan><tspan x="119.5" y="142.5">TID: ...bc41e8</tspan></text></g>
<g id="blur_chunk_5" transform="translate(913,1912)"><rect class="n" width="246" height="166"/><text class="t" x="123" y="33">blur_chunk</text><text><tspan x="123" y="53">I/O: 1125000 - 1125000 bytes</tspan><tspan x="123" y="71">Time: 6312.42 - 6375.44ms</tspan><tspan x="123" y="88.5">CPU:2,Mem:512MB</tspan><tspan x="123" y="124">Worker: ...Flexbile | State: -</tspan><tspan x="123" y="142.5">TID: ...ff4d81</tspan></text></g>
<g id="sharpen_chunk_5" transform="translate(919,2102)"><rect class="n" width="233" height="166"/><text class="t" x="116.5" y="33">sharpen_chunk</text><text><tspan x="116.5" y="53">I/O: 375000 - 375000 bytes</tspan><tspan x="116.5" y="71">Time: 6310.85 - 6344.88ms</tspan><tspan x="116.5" y="88.5">CPU:2,Mem:512MB</tspan><tspan x="116.5" y="124">Worker: ...Flexbile | State: -</tspan><tspan x="116.5" y="142.5">TID: ...0b6fe3</tspan></text></g>
<g id="normalize_chunk_5" transform="translate(1206,1946)"><rect class="n" width="246" height="166"/><text class="t" x="123" y="33">normalize_chunk</text><text><tspan x="123" y="53">I/O: 1125000 - 1125000 bytes</tspan><tspan x="123" y="71">Time: 6375.44 - 6413.56ms</tspan><tspan x="123" y="88.5">CPU:2,Mem:512MB</tspan><tspan x="123" y="124">Worker: ...Flexbile | State: -</tspan><tspan x="123" y="142.5">TID: ...ad3e88</tspan></text></g>
<g id="sepia_chunk_5" transform="translate(1500,1964)"><rect class="n" width="246" height="166"/><text class="t" x="123" y="33">sepia_chunk</text><text><tspan x="123" y="53">I/O: 1125000 - 1125000 bytes</tspan><tspan x="123" y="71">Time: 6413.56 - 6458.02ms</tspan><tspan x="123" y="88.5">CPU:2,Mem:512MB</tspan><tspan x="123" y="124">Worker: ...Flexbile | State: -</tspan><tspan x="123" y="142.5">TID: ...a5f9c9</tspan></text></g>
<g id="combine_chunk_5" transform="translate(1794,2102)"><rect class="n" width="247" height="166"/><text class="t" x="123.5" y="33">combine_chunk</text><text><tspan x="123.5" y="53">I/O: 1500000 - 1125000 bytes</tspan><tspan x="123.5" y="71">Time: 6458.02 - 6495.57ms</tspan><tspan x="123.5" y="88.5">CPU:2,Mem:512MB</tspan><tspan x="123.5" y="124">Worker: ...Flexbile | State: -</tspan><tspan x="123.5" y="142.5">TID: ...361487</tspan></text></g>

<!-- ROW 6 -->
<g id="get_chunk_6" transform="translate(317,2483)"><rect class="n" width="255" height="166"/><text class="t" x="127.5" y="33">get_chunk</text><text><tspan x="127.5" y="53">I/O: 18000196 - 1125000 bytes</tspan><tspan x="127.5" y="71">Time: 6245.45 - 6277.29ms</tspan><tspan x="127.5" y="88.5">CPU:2,Mem:512MB</tspan><tspan x="127.5" y="124">Worker: ...Flexbile | State: -</tspan><tspan x="127.5" y="142.5">TID: ...6fbaae</tspan></text></g>
<g id="resize_chunk_6" transform="translate(619,2293)"><rect class="n" width="247" height="166"/><text class="t" x="123.5" y="33">resize_chunk</text><text><tspan x="123.5" y="53">I/O: 1125000 - 1125000 bytes</tspan><tspan x="123.5" y="71">Time: 6277.29 - 6312.42ms</tspan><tspan x="123.5" y="88.5">CPU:2,Mem:512MB</tspan><tspan x="123.5" y="124">Worker: ...Flexbile | State: -</tspan><tspan x="123.5" y="142.5">TID: ...24234c</tspan></text></g>
<g id="edge_detect_chunk_6" transform="translate(623,2483)"><rect class="n" width="239" height="166"/><text class="t" x="119.5" y="33">edge_detect_chunk</text><text><tspan x="119.5" y="53">I/O: 1125000 - 375000 bytes</tspan><tspan x="119.5" y="71">Time: 6277.29 - 6310.85ms</tspan><tspan x="119.5" y="88.5">CPU:2,Mem:512MB</tspan><tspan x="119.5" y="124">Worker: ...Flexbile | State: -</tspan><tspan x="119.5" y="142.5">TID: ...564ec1</tspan></text></g>
<g id="blur_chunk_6" transform="translate(913,2293)"><rect class="n" width="246" height="166"/><text class="t" x="123" y="33">blur_chunk</text><text><tspan x="123" y="53">I/O: 1125000 - 1125000 bytes</tspan><tspan x="123" y="71">Time: 6312.42 - 6375.44ms</tspan><tspan x="123" y="88.5">CPU:2,Mem:512MB</tspan><tspan x="123" y="124">Worker: ...Flexbile | State: -</tspan><tspan x="123" y="142.5">TID: ...c9f0db</tspan></text></g>
<g id="sharpen_chunk_6" transform="translate(919,2483)"><rect class="n" width="233" height="166"/><text class="t" x="116.5" y="33">sharpen_chunk</text><text><tspan x="116.5" y="53">I/O: 375000 - 375000 bytes</tspan><tspan x="116.5" y="71">Time: 6310.85 - 6344.88ms</tspan><tspan x="116.5" y="88.5">CPU:2,Mem:512MB</tspan><tspan x="116.5" y="124">Worker: ...Flexbile | State: -</tspan><tspan x="116.5" y="142.5">TID: ...233686</tspan></text></g>
<g id="normalize_chunk_6" transform="translate(1206,2311)"><rect class="n" width="246" height="166"/><text class="t" x="123" y="33">normalize_chunk</text><text><tspan x="123" y="53">I/O: 1125000 - 1125000 bytes</tspan><tspan x="123" y="71">Time: 6375.44 - 6413.56ms</tspan><tspan x="123" y="88.5">CPU:2,Mem:512MB</tspan><tspan x="123" y="124">Worker: ...Flexbile | State: -</tspan><tspan x="123" y="142.5">TID: ...9ae3fe</tspan></text></g>
<g id="sepia_chunk_6" transform="translate(1500,2329)"><rect class="n" width="246" height="166"/><text class="t" x="123" y="33">sepia_chunk</text><text><tspan x="123" y="53">I/O: 1125000 - 1125000 bytes</tspan><tspan x="123" y="71">Time: 6413.56 - 6458.02ms</tspan><tspan x="123" y="88.5">CPU:2,Mem:512MB</tspan><tspan x="123" y="124">Worker: ...Flexbile | State: -</tspan><tspan x="123" y="142.5">TID: ...5ab3ff</tspan></text></g>
<g id="combine_chunk_6" transform="translate(1794,2483)"><rect class="n" width="247" height="166"/><text class="t" x="123.5" y="33">combine_chunk</text><text><tspan x="123.5" y="53">I/O: 1500000 - 1125000 bytes</tspan><tspan x="123.5" y="71">Time: 6458.02 - 6495.57ms</tspan><tspan x="123.5" y="88.5">CPU:2,Mem:512MB</tspan><tspan x="123.5" y="124">Worker: ...Flexbile | State: -</tspan><tspan x="123.5" y="142.5">TID: ...839673</tspan></text></g>

<!-- ROW 7 -->
<g id="get_chunk_7" transform="translate(317,2865)"><rect class="n" width="255" height="166"/><text class="t" x="127.5" y="33">get_chunk</text><text><tspan x="127.5" y="53">I/O: 18000196 - 1125000 bytes</tspan><tspan x="127.5" y="71">Time: 6245.45 - 6277.29ms</tspan><tspan x="127.5" y="88.5">CPU:2,Mem:512MB</tspan><tspan x="127.5" y="124">Worker: ...Flexbile | State: -</tspan><tspan x="127.5" y="142.5">TID: ...c04124</tspan></text></g>
<g id="resize_chunk_7" transform="translate(619,2675)"><rect class="n" width="247" height="166"/><text class="t" x="123.5" y="33">resize_chunk</text><text><tspan x="123.5" y="53">I/O: 1125000 - 1125000 bytes</tspan><tspan x="123.5" y="71">Time: 6277.29 - 6312.42ms</tspan><tspan x="123.5" y="88.5">CPU:2,Mem:512MB</tspan><tspan x="123.5" y="124">Worker: ...Flexbile | State: -</tspan><tspan x="123.5" y="142.5">TID: ...8fcd33</tspan></text></g>
<g id="edge_detect_chunk_7" transform="translate(623,2865)"><rect class="n" width="239" height="166"/><text class="t" x="119.5" y="33">edge_detect_chunk</text><text><tspan x="119.5" y="53">I/O: 1125000 - 375000 bytes</tspan><tspan x="119.5" y="71">Time: 6277.29 - 6310.85ms</tspan><tspan x="119.5" y="88.5">CPU:2,Mem:512MB</tspan><tspan x="119.5" y="124">Worker: ...Flexbile | State: -</tspan><tspan x="119.5" y="142.5">TID: ...2040cb</tspan></text></g>
<g id="blur_chunk_7" transform="translate(913,2675)"><rect class="n" width="246" height="166"/><text class="t" x="123" y="33">blur_chunk</text><text><tspan x="123" y="53">I/O: 1125000 - 1125000 bytes</tspan><tspan x="123" y="71">Time: 6312.42 - 6375.44ms</tspan><tspan x="123" y="88.5">CPU:2,Mem:512MB</tspan><tspan x="123" y="124">Worker: ...Flexbile | State: -</tspan><tspan x="123" y="142.5">TID: ...b6df71</tspan></text></g>
<g id="sharpen_chunk_7" transform="translate(919,2865)"><rect class="n" width="233" height="166"/><text class="t" x="116.5" y="33">sharpen_chunk</text><text><tspan x="116.5" y="53">I/O: 375000 - 375000 bytes</tspan><tspan x="116.5" y="71">Time: 6310.85 - 6344.88ms</tspan><tspan x="116.5" y="88.5">CPU:2,Mem:512MB</tspan><tspan x="116.5" y="124">Worker: ...Flexbile | State: -</tspan><tspan x="116.5" y="142.5">TID: ...f29b2a</tspan></text></g>
<g id="normalize_chunk_7" transform="translate(1206,2711)"><rect class="n" width="246" height="166"/><text class="t" x="123" y="33">normalize_chunk</text><text><tspan x="123" y="53">I/O: 1125000 - 1125000 bytes</tspan><tspan x="123" y="71">Time: 6375.44 - 6413.56ms</tspan><tspan x="123" y="88.5">CPU:2,Mem:512MB</tspan><tspan x="123" y="124">Worker: ...Flexbile | State: -</tspan><tspan x="123" y="142.5">TID: ...7aaa59</tspan></text></g>
<g id="sepia_chunk_7" transform="translate(1500,2728)"><rect class="n" width="246" height="166"/><text class="t" x="123" y="33">sepia_chunk</text><text><tspan x="123" y="53">I/O: 1125000 - 1125000 bytes</tspan><tspan x="123" y="71">Time: 6413.56 - 6458.02ms</tspan><tspan x="123" y="88.5">CPU:2,Mem:512MB</tspan><tspan x="123" y="124">Worker: ...Flexbile | State: -</tspan><tspan x="123" y="142.5">TID: ...3f47ab</tspan></text></g>
<g id="combine_chunk_7" transform="translate(1794,2865)"><rect class="n" width="247" height="166"/><text class="t" x="123.5" y="33">combine_chunk</text><text><tspan x="123.5" y="53">I/O: 1500000 - 1125000 bytes</tspan><tspan x="123.5" y="71">Time: 6458.02 - 6495.57ms</tspan><tspan x="123.5" y="88.5">CPU:2,Mem:512MB</tspan><tspan x="123.5" y="124">Worker: ...Flexbile | State: -</tspan><tspan x="123.5" y="142.5">TID: ...c9b508</tspan></text></g>

<!-- ROW 8 -->
<g id="get_chunk_8" transform="translate(317,3056)"><rect class="n" width="255" height="166"/><text class="t" x="127.5" y="33">get_chunk</text><text><tspan x="127.5" y="53">I/O: 18000196 - 1125000 bytes</tspan><tspan x="127.5" y="71">Time: 6245.45 - 6277.29ms</tspan><tspan x="127.5" y="88.5">CPU:2,Mem:512MB</tspan><tspan x="127.5" y="124">Worker: ...Flexbile | State: -</tspan><tspan x="127.5" y="142.5">TID: ...c17837</tspan></text></g>
<g id="resize_chunk_8" transform="translate(619,3056)"><rect class="n" width="247" height="166"/><text class="t" x="123.5" y="33">resize_chunk</text><text><tspan x="123.5" y="53">I/O: 1125000 - 1125000 bytes</tspan><tspan x="123.5" y="71">Time: 6277.29 - 6312.42ms</tspan><tspan x="123.5" y="88.5">CPU:2,Mem:512MB</tspan><tspan x="123.5" y="124">Worker: ...Flexbile | State: -</tspan><tspan x="123.5" y="142.5">TID: ...4e20e6</tspan></text></g>
<g id="edge_detect_chunk_8" transform="translate(623,3246)"><rect class="n" width="239" height="166"/><text class="t" x="119.5" y="33">edge_detect_chunk</text><text><tspan x="119.5" y="53">I/O: 1125000 - 375000 bytes</tspan><tspan x="119.5" y="71">Time: 6277.29 - 6310.85ms</tspan><tspan x="119.5" y="88.5">CPU:2,Mem:512MB</tspan><tspan x="119.5" y="124">Worker: ...Flexbile | State: -</tspan><tspan x="119.5" y="142.5">TID: ...899f5a</tspan></text></g>
<g id="blur_chunk_8" transform="translate(913,3056)"><rect class="n" width="246" height="166"/><text class="t" x="123" y="33">blur_chunk</text><text><tspan x="123" y="53">I/O: 1125000 - 1125000 bytes</tspan><tspan x="123" y="71">Time: 6312.42 - 6375.44ms</tspan><tspan x="123" y="88.5">CPU:2,Mem:512MB</tspan><tspan x="123" y="124">Worker: ...Flexbile | State: -</tspan><tspan x="123" y="142.5">TID: ...55c92e</tspan></text></g>
<g id="sharpen_chunk_8" transform="translate(919,3246)"><rect class="n" width="233" height="166"/><text class="t" x="116.5" y="33">sharpen_chunk</text><text><tspan x="116.5" y="53">I/O: 375000 - 375000 bytes</tspan><tspan x="116.5" y="71">Time: 6310.85 - 6344.88ms</tspan><tspan x="116.5" y="88.5">CPU:2,Mem:512MB</tspan><tspan x="116.5" y="124">Worker: ...Flexbile | State: -</tspan><tspan x="116.5" y="142.5">TID: ...8a08b7</tspan></text></g>
<g id="normalize_chunk_8" transform="translate(1206,3056)"><rect class="n" width="246" height="166"/><text class="t" x="123" y="33">normalize_chunk</text><text><tspan x="123" y="53">I/O: 1125000 - 1125000 bytes</tspan><tspan x="123" y="71">Time: 6375.44 - 6413.56ms</tspan><tspan x="123" y="88.5">CPU:2,Mem:512MB</tspan><tspan x="123" y="124">Worker: ...Flexbile | State: -</tspan><tspan x="123" y="142.5">TID: ...f9f021</tspan></text></g>
<g id="sepia_chunk_8" transform="translate(1500,3056)"><rect class="n" width="246" height="166"/><text class="t" x="123" y="33">sepia_chunk</text><text><tspan x="123" y="53">I/O: 1125000 - 1125000 bytes</tspan><tspan x="123" y="71">Time: 6413.56 - 6458.02ms</tspan><tspan x="123" y="88.5">CPU:2,Mem:512MB</tspan><tspan x="123" y="124">Worker: ...Flexbile | State: -</tspan><tspan x="123" y="142.5">TID: ...85281f</tspan></text></g>
<g id="combine_chunk_8" transform="translate(1794,3056)"><rect class="n" width="247" height="166"/><text class="t" x="123.5" y="33">combine_chunk</text><text><tspan x="123.5" y="53">I/O: 1500000 - 1125000 bytes</tspan><tspan x="123.5" y="71">Time: 6458.02 - 6495.57ms</tspan><tspan x="123.5" y="88.5">CPU:2,Mem:512MB</tspan><tspan x="123.5" y="124">Worker: ...Flexbile | State: -</tspan><tspan x="123.5" y="142.5">TID: ...6b5c4a</tspan></text></g>

<!-- ROW 9 -->
<g id="get_chunk_9" transform="translate(317,3437)"><rect class="n" width="255" height="166"/><text class="t" x="127.5" y="33">get_chunk</text><text><tspan x="127.5" y="53">I/O: 18000196 - 1125000 bytes</tspan><tspan x="127.5" y="71">Time: 6245.45 - 6277.29ms</tspan><tspan x="127.5" y="88.5">CPU:2,Mem:512MB</tspan><tspan x="127.5" y="124">Worker: ...Flexbile | State: -</tspan><tspan x="127.5" y="142.5">TID: ...c1b95a</tspan></text></g>
<g id="resize_chunk_9" transform="translate(619,3437)"><rect class="n" width="247" height="166"/><text class="t" x="123.5" y="33">resize_chunk</text><text><tspan x="123.5" y="53">I/O: 1125000 - 1125000 bytes</tspan><tspan x="123.5" y="71">Time: 6277.29 - 6312.42ms</tspan><tspan x="123.5" y="88.5">CPU:2,Mem:512MB</tspan><tspan x="123.5" y="124">Worker: ...Flexbile | State: -</tspan><tspan x="123.5" y="142.5">TID: ...d7cf23</tspan></text></g>
<g id="edge_detect_chunk_9" transform="translate(623,3627)"><rect class="n" width="239" height="166"/><text class="t" x="119.5" y="33">edge_detect_chunk</text><text><tspan x="119.5" y="53">I/O: 1125000 - 375000 bytes</tspan><tspan x="119.5" y="71">Time: 6277.29 - 6310.85ms</tspan><tspan x="119.5" y="88.5">CPU:2,Mem:512MB</tspan><tspan x="119.5" y="124">Worker: ...Flexbile | State: -</tspan><tspan x="119.5" y="142.5">TID: ...a9ff0d</tspan></text></g>
<g id="blur_chunk_9" transform="translate(913,3437)"><rect class="n" width="246" height="166"/><text class="t" x="123" y="33">blur_chunk</text><text><tspan x="123" y="53">I/O: 1125000 - 1125000 bytes</tspan><tspan x="123" y="71">Time: 6312.42 - 6375.44ms</tspan><tspan x="123" y="88.5">CPU:2,Mem:512MB</tspan><tspan x="123" y="124">Worker: ...Flexbile | State: -</tspan><tspan x="123" y="142.5">TID: ...cd2f96</tspan></text></g>
<g id="sharpen_chunk_9" transform="translate(919,3627)"><rect class="n" width="233" height="166"/><text class="t" x="116.5" y="33">sharpen_chunk</text><text><tspan x="116.5" y="53">I/O: 375000 - 375000 bytes</tspan><tspan x="116.5" y="71">Time: 6310.85 - 6344.88ms</tspan><tspan x="116.5" y="88.5">CPU:2,Mem:512MB</tspan><tspan x="116.5" y="124">Worker: ...Flexbile | State: -</tspan><tspan x="116.5" y="142.5">TID: ...dbda19</tspan></text></g>
<g id="normalize_chunk_9" transform="translate(1206,3437)"><rect class="n" width="246" height="166"/><text class="t" x="123" y="33">normalize_chunk</text><text><tspan x="123" y="53">I/O: 1125000 - 1125000 bytes</tspan><tspan x="123" y="71">Time: 6375.44 - 6413.56ms</tspan><tspan x="123" y="88.5">CPU:2,Mem:512MB</tspan><tspan x="123" y="124">Worker: ...Flexbile | State: -</tspan><tspan x="123" y="142.5">TID: ...4b136c</tspan></text></g>
<g id="sepia_chunk_9" transform="translate(1500,3437)"><rect class="n" width="246" height="166"/><text class="t" x="123" y="33">sepia_chunk</text><text><tspan x="123" y="53">I/O: 1125000 - 1125000 bytes</tspan><tspan x="123" y="71">Time: 6413.56 - 6458.02ms</tspan><tspan x="123" y="88.5">CPU:2,Mem:512MB</tspan><tspan x="123" y="124">Worker: ...Flexbile | State: -</tspan><tspan x="123" y="142.5">TID: ...9c293f</tspan></text></g>
<g id="combine_chunk_9" transform="translate(1794,3437)"><rect class="n" width="247" height="166"/><text class="t" x="123.5" y="33">combine_chunk</text><text><tspan x="123.5" y="53">I/O: 1500000 - 1125000 bytes</tspan><tspan x="123.5" y="71">Time: 6458.02 - 6495.57ms</tspan><tspan x="123.5" y="88.5">CPU:2,Mem:512MB</tspan><tspan x="123.5" y="124">Worker: ...Flexbile | State: -</tspan><tspan x="123.5" y="142.5">TID: ...2f4c38</tspan></text></g>

<!-- ROW 10 -->
<g id="get_chunk_10" transform="translate(317,3818)"><rect class="n" width="255" height="166"/><text class="t" x="127.5" y="33">get_chunk</text><text><tspan x="127.5" y="53">I/O: 18000196 - 1125000 bytes</tspan><tspan x="127.5" y="71">Time: 6245.45 - 6277.29ms</tspan><tspan x="127.5" y="88.5">CPU:2,Mem:512MB</tspan><tspan x="127.5" y="124">Worker: ...Flexbile | State: -</tspan><tspan x="127.5" y="142.5">TID: ...9aeca9</tspan></text></g>
<g id="resize_chunk_10" transform="translate(619,3818)"><rect class="n" width="247" height="166"/><text class="t" x="123.5" y="33">resize_chunk</text><text><tspan x="123.5" y="53">I/O: 1125000 - 1125000 bytes</tspan><tspan x="123.5" y="71">Time: 6277.29 - 6312.42ms</tspan><tspan x="123.5" y="88.5">CPU:2,Mem:512MB</tspan><tspan x="123.5" y="124">Worker: ...Flexbile | State: -</tspan><tspan x="123.5" y="142.5">TID: ...1d165b</tspan></text></g>
<g id="edge_detect_chunk_10" transform="translate(623,4008)"><rect class="n" width="239" height="166"/><text class="t" x="119.5" y="33">edge_detect_chunk</text><text><tspan x="119.5" y="53">I/O: 1125000 - 375000 bytes</tspan><tspan x="119.5" y="71">Time: 6277.29 - 6310.85ms</tspan><tspan x="119.5" y="88.5">CPU:2,Mem:512MB</tspan><tspan x="119.5" y="124">Worker: ...Flexbile | State: -</tspan><tspan x="119.5" y="142.5">TID: ...1736f3</tspan></text></g>
<g id="blur_chunk_10" transform="translate(913,3818)"><rect class="n" width="246" height="166"/><text class="t" x="123" y="33">blur_chunk</text><text><tspan x="123" y="53">I/O: 1125000 - 1125000 bytes</tspan><tspan x="123" y="71">Time: 6312.42 - 6375.44ms</tspan><tspan x="123" y="88.5">CPU:2,Mem:512MB</tspan><tspan x="123" y="124">Worker: ...Flexbile | State: -</tspan><tspan x="123" y="142.5">TID: ...04ffbd</tspan></text></g>
<g id="sharpen_chunk_10" transform="translate(919,4008)"><rect class="n" width="233" height="166"/><text class="t" x="116.5" y="33">sharpen_chunk</text><text><tspan x="116.5" y="53">I/O: 375000 - 375000 bytes</tspan><tspan x="116.5" y="71">Time: 6310.85 - 6344.88ms</tspan><tspan x="116.5" y="88.5">CPU:2,Mem:512MB</tspan><tspan x="116.5" y="124">Worker: ...Flexbile | State: -</tspan><tspan x="116.5" y="142.5">TID: ...0c9993</tspan></text></g>
<g id="normalize_chunk_10" transform="translate(1206,3818)"><rect class="n" width="246" height="166"/><text class="t" x="123" y="33">normalize_chunk</text><text><tspan x="123" y="53">I/O: 1125000 - 1125000 bytes</tspan><tspan x="123" y="71">Time: 6375.44 - 6413.56ms</tspan><tspan x="123" y="88.5">CPU:2,Mem:512MB</tspan><tspan x="123" y="124">Worker: ...Flexbile | State: -</tspan><tspan x="123" y="142.5">TID: ...7f12f0</tspan></text></g>
<g id="sepia_chunk_10" transform="translate(1500,3818)"><rect class="n" width="246" height="166"/><text class="t" x="123" y="33">sepia_chunk</text><text><tspan x="123" y="53">I/O: 1125000 - 1125000 bytes</tspan><tspan x="123" y="71">Time: 6413.56 - 6458.02ms</tspan><tspan x="123" y="88.5">CPU:2,Mem:512MB</tspan><tspan x="123" y="124">Worker: ...Flexbile | State: -</tspan><tspan x="123" y="142.5">TID: ...19768b</tspan></text></g>
<g id="combine_chunk_10" transform="translate(1794,3818)"><rect class="n" width="247" height="166"/><text class="t" x="123.5" y="33">combine_chunk</text><text><tspan x="123.5" y="53">I/O: 1500000 - 1125000 bytes</tspan><tspan x="123.5" y="71">Time: 6458.02 - 6495.57ms</tspan><tspan x="123.5" y="88.5">CPU:2,Mem:512MB</tspan><tspan x="123.5" y="124">Worker: ...Flexbile | State: -</tspan><tspan x="123.5" y="142.5">TID: ...d4bcd1</tspan></text></g>

<!-- ROW 11 -->
<g id="get_chunk_11" transform="translate(317,4200)"><rect class="n" width="255" height="166"/><text class="t" x="127.5" y="33">get_chunk</text><text><tspan x="127.5" y="53">I/O: 18000196 - 1125000 bytes</tspan><tspan x="127.5" y="71">Time: 6245.45 - 6277.29ms</tspan><tspan x="127.5" y="88.5">CPU:2,Mem:512MB</tspan><tspan x="127.5" y="124">Worker: ...Flexbile | State: -</tspan><tspan x="127.5" y="142.5">TID: ...e55139</tspan></text></g>
<g id="resize_chunk_11" transform="translate(619,4200)"><rect class="n" width="247" height="166"/><text class="t" x="123.5" y="33">resize_chunk</text><text><tspan x="123.5" y="53">I/O: 1125000 - 1125000 bytes</tspan><tspan x="123.5" y="71">Time: 6277.29 - 6312.42ms</tspan><tspan x="123.5" y="88.5">CPU:2,Mem:512MB</tspan><tspan x="123.5" y="124">Worker: ...Flexbile | State: -</tspan><tspan x="123.5" y="142.5">TID: ...f9a885</tspan></text></g>
<g id="edge_detect_chunk_11" transform="translate(623,4390)"><rect class="n" width="239" height="166"/><text class="t" x="119.5" y="33">edge_detect_chunk</text><text><tspan x="119.5" y="53">I/O: 1125000 - 375000 bytes</tspan><tspan x="119.5" y="71">Time: 6277.29 - 6310.85ms</tspan><tspan x="119.5" y="88.5">CPU:2,Mem:512MB</tspan><tspan x="119.5" y="124">Worker: ...Flexbile | State: -</tspan><tspan x="119.5" y="142.5">TID: ...884d8b</tspan></text></g>
<g id="blur_chunk_11" transform="translate(913,4200)"><rect class="n" width="246" height="166"/><text class="t" x="123" y="33">blur_chunk</text><text><tspan x="123" y="53">I/O: 1125000 - 1125000 bytes</tspan><tspan x="123" y="71">Time: 6312.42 - 6375.44ms</tspan><tspan x="123" y="88.5">CPU:2,Mem:512MB</tspan><tspan x="123" y="124">Worker: ...Flexbile | State: -</tspan><tspan x="123" y="142.5">TID: ...c15c23</tspan></text></g>
<g id="sharpen_chunk_11" transform="translate(919,4390)"><rect class="n" width="233" height="166"/><text class="t" x="116.5" y="33">sharpen_chunk</text><text><tspan x="116.5" y="53">I/O: 375000 - 375000 bytes</tspan><tspan x="116.5" y="71">Time: 6310.85 - 6344.88ms</tspan><tspan x="116.5" y="88.5">CPU:2,Mem:512MB</tspan><tspan x="116.5" y="124">Worker: ...Flexbile | State: -</tspan><tspan x="116.5" y="142.5">TID: ...0ae4f5</tspan></text></g>
<g id="normalize_chunk_11" transform="translate(1206,4200)"><rect class="n" width="246" height="166"/><text class="t" x="123" y="33">normalize_chunk</text><text><tspan x="123" y="53">I/O: 1125000 - 1125000 bytes</tspan><tspan x="123" y="71">Time: 6375.44 - 6413.56ms</tspan><tspan x="123" y="88.5">CPU:2,Mem:512MB</tspan><tspan x="123" y="124">Worker: ...Flexbile | State: -</tspan><tspan x="123" y="142.5">TID: ...a4a08d</tspan></text></g>
<g id="sepia_chunk_11" transform="translate(1500,4200)"><rect class="n" width="246" height="166"/><text class="t" x="123" y="33">sepia_chunk</text><text><tspan x="123" y="53">I/O: 1125000 - 1125000 bytes</tspan><tspan x="123" y="71">Time: 6413.56 - 6458.02ms</tspan><tspan x="123" y="88.5">CPU:2,Mem:512MB</tspan><tspan x="123" y="124">Worker: ...Flexbile | State: -</tspan><tspan x="123" y="142.5">TID: ...7a4753</tspan></text></g>
<g id="combine_chunk_11" transform="translate(1794,4200)"><rect class="n" width="247" height="166"/><text class="t" x="123.5" y="33">combine_chunk</text><text><tspan x="123.5" y="53">I/O: 1500000 - 1125000 bytes</tspan><tspan x="123.5" y="71">Time: 6458.02 - 6495.57ms</tspan><tspan x="123.5" y="88.5">CPU:2,Mem:512MB</tspan><tspan x="123.5" y="124">Worker: ...Flexbile | State: -</tspan><tspan x="123.5" y="142.5">TID: ...0c0280</tspan></text></g>

<!-- ROW 12 -->
<g id="get_chunk_12" transform="translate(317,4581)"><rect class="n" width="255" height="166"/><text class="t" x="127.5" y="33">get_chunk</text><text><tspan x="127.5" y="53">I/O: 18000196 - 1125000 bytes</tspan><tspan x="127.5" y="71">Time: 6245.45 - 6277.29ms</tspan><tspan x="127.5" y="88.5">CPU:2,Mem:512MB</tspan><tspan x="127.5" y="124">Worker: ...Flexbile | State: -</tspan><tspan x="127.5" y="142.5">TID: ...47e954</tspan></text></g>
<g id="resize_chunk_12" transform="translate(619,4581)"><rect class="n" width="247" height="166"/><text class="t" x="123.5" y="33">resize_chunk</text><text><tspan x="123.5" y="53">I/O: 1125000 - 1125000 bytes</tspan><tspan x="123.5" y="71">Time: 6277.29 - 6312.42ms</tspan><tspan x="123.5" y="88.5">CPU:2,Mem:512MB</tspan><tspan x="123.5" y="124">Worker: ...Flexbile | State: -</tspan><tspan x="123.5" y="142.5">TID: ...31ca6f</tspan></text></g>
<g id="edge_detect_chunk_12" transform="translate(623,4771)"><rect class="n" width="239" height="166"/><text class="t" x="119.5" y="33">edge_detect_chunk</text><text><tspan x="119.5" y="53">I/O: 1125000 - 375000 bytes</tspan><tspan x="119.5" y="71">Time: 6277.29 - 6310.85ms</tspan><tspan x="119.5" y="88.5">CPU:2,Mem:512MB</tspan><tspan x="119.5" y="124">Worker: ...Flexbile | State: -</tspan><tspan x="119.5" y="142.5">TID: ...348adc</tspan></text></g>
<g id="blur_chunk_12" transform="translate(913,4581)"><rect class="n" width="246" height="166"/><text class="t" x="123" y="33">blur_chunk</text><text><tspan x="123" y="53">I/O: 1125000 - 1125000 bytes</tspan><tspan x="123" y="71">Time: 6312.42 - 6375.44ms</tspan><tspan x="123" y="88.5">CPU:2,Mem:512MB</tspan><tspan x="123" y="124">Worker: ...Flexbile | State: -</tspan><tspan x="123" y="142.5">TID: ...ea5e6f</tspan></text></g>
<g id="sharpen_chunk_12" transform="translate(919,4771)"><rect class="n" width="233" height="166"/><text class="t" x="116.5" y="33">sharpen_chunk</text><text><tspan x="116.5" y="53">I/O: 375000 - 375000 bytes</tspan><tspan x="116.5" y="71">Time: 6310.85 - 6344.88ms</tspan><tspan x="116.5" y="88.5">CPU:2,Mem:512MB</tspan><tspan x="116.5" y="124">Worker: ...Flexbile | State: -</tspan><tspan x="116.5" y="142.5">TID: ...eb8bcf</tspan></text></g>
<g id="normalize_chunk_12" transform="translate(1206,4581)"><rect class="n" width="246" height="166"/><text class="t" x="123" y="33">normalize_chunk</text><text><tspan x="123" y="53">I/O: 1125000 - 1125000 bytes</tspan><tspan x="123" y="71">Time: 6375.44 - 6413.56ms</tspan><tspan x="123" y="88.5">CPU:2,Mem:512MB</tspan><tspan x="123" y="124">Worker: ...Flexbile | State: -</tspan><tspan x="123" y="142.5">TID: ...d588ce</tspan></text></g>
<g id="sepia_chunk_12" transform="translate(1500,4581)"><rect class="n" width="246" height="166"/><text class="t" x="123" y="33">sepia_chunk</text><text><tspan x="123" y="53">I/O: 1125000 - 1125000 bytes</tspan><tspan x="123" y="71">Time: 6413.56 - 6458.02ms</tspan><tspan x="123" y="88.5">CPU:2,Mem:512MB</tspan><tspan x="123" y="124">Worker: ...Flexbile | State: -</tspan><tspan x="123" y="142.5">TID: ...a9c3f9</tspan></text></g>
<g id="combine_chunk_12" transform="translate(1794,4581)"><rect class="n" width="247" height="166"/><text class="t" x="123.5" y="33">combine_chunk</text><text><tspan x="123.5" y="53">I/O: 1500000 - 1125000 bytes</tspan><tspan x="123.5" y="71">Time: 6458.02 - 6495.57ms</tspan><tspan x="123.5" y="88.5">CPU:2,Mem:512MB</tspan><tspan x="123.5" y="124">Worker: ...Flexbile | State: -</tspan><tspan x="123.5" y="142.5">TID: ...65bda3</tspan></text></g>

<!-- ROW 13 -->
<g id="get_chunk_13" transform="translate(317,4962)"><rect class="n" width="255" height="166"/><text class="t" x="127.5" y="33">get_chunk</text><text><tspan x="127.5" y="53">I/O: 18000196 - 1125000 bytes</tspan><tspan x="127.5" y="71">Time: 6245.45 - 6277.29ms</tspan><tspan x="127.5" y="88.5">CPU:2,Mem:512MB</tspan><tspan x="127.5" y="124">Worker: ...Flexbile | State: -</tspan><tspan x="127.5" y="142.5">TID: ...e3b6b2</tspan></text></g>
<g id="resize_chunk_13" transform="translate(619,4962)"><rect class="n" width="247" height="166"/><text class="t" x="123.5" y="33">resize_chunk</text><text><tspan x="123.5" y="53">I/O: 1125000 - 1125000 bytes</tspan><tspan x="123.5" y="71">Time: 6277.29 - 6312.42ms</tspan><tspan x="123.5" y="88.5">CPU:2,Mem:512MB</tspan><tspan x="123.5" y="124">Worker: ...Flexbile | State: -</tspan><tspan x="123.5" y="142.5">TID: ...af4346</tspan></text></g>
<g id="edge_detect_chunk_13" transform="translate(623,5152)"><rect class="n" width="239" height="166"/><text class="t" x="119.5" y="33">edge_detect_chunk</text><text><tspan x="119.5" y="53">I/O: 1125000 - 375000 bytes</tspan><tspan x="119.5" y="71">Time: 6277.29 - 6310.85ms</tspan><tspan x="119.5" y="88.5">CPU:2,Mem:512MB</tspan><tspan x="119.5" y="124">Worker: ...Flexbile | State: -</tspan><tspan x="119.5" y="142.5">TID: ...c217ad</tspan></text></g>
<g id="blur_chunk_13" transform="translate(913,4962)"><rect class="n" width="246" height="166"/><text class="t" x="123" y="33">blur_chunk</text><text><tspan x="123" y="53">I/O: 1125000 - 1125000 bytes</tspan><tspan x="123" y="71">Time: 6312.42 - 6375.44ms</tspan><tspan x="123" y="88.5">CPU:2,Mem:512MB</tspan><tspan x="123" y="124">Worker: ...Flexbile | State: -</tspan><tspan x="123" y="142.5">TID: ...2a6331</tspan></text></g>
<g id="sharpen_chunk_13" transform="translate(919,5152)"><rect class="n" width="233" height="166"/><text class="t" x="116.5" y="33">sharpen_chunk</text><text><tspan x="116.5" y="53">I/O: 375000 - 375000 bytes</tspan><tspan x="116.5" y="71">Time: 6310.85 - 6344.88ms</tspan><tspan x="116.5" y="88.5">CPU:2,Mem:512MB</tspan><tspan x="116.5" y="124">Worker: ...Flexbile | State: -</tspan><tspan x="116.5" y="142.5">TID: ...7d667b</tspan></text></g>
<g id="normalize_chunk_13" transform="translate(1206,4962)"><rect class="n" width="246" height="166"/><text class="t" x="123" y="33">normalize_chunk</text><text><tspan x="123" y="53">I/O: 1125000 - 1125000 bytes</tspan><tspan x="123" y="71">Time: 6375.44 - 6413.56ms</tspan><tspan x="123" y="88.5">CPU:2,Mem:512MB</tspan><tspan x="123" y="124">Worker: ...Flexbile | State: -</tspan><tspan x="123" y="142.5">TID: ...cb0eff</tspan></text></g>
<g id="sepia_chunk_13" transform="translate(1500,4962)"><rect class="n" width="246" height="166"/><text class="t" x="123" y="33">sepia_chunk</text><text><tspan x="123" y="53">I/O: 1125000 - 1125000 bytes</tspan><tspan x="123" y="71">Time: 6413.56 - 6458.02ms</tspan><tspan x="123" y="88.5">CPU:2,Mem:512MB</tspan><tspan x="123" y="124">Worker: ...Flexbile | State: -</tspan><tspan x="123" y="142.5">TID: ...564aa2</tspan></text></g>
<g id="combine_chunk_13" transform="translate(1794,4962)"><rect class="n" width="247" height="166"/><text class="t" x="123.5" y="33">combine_chunk</text><text><tspan x="123.5" y="53">I/O: 1500000 - 1125000 bytes</tspan><tspan x="123.5" y="71">Time: 6458.02 - 6495.57ms</tspan><tspan x="123.5" y="88.5">CPU:2,Mem:512MB</tspan><tspan x="123.5" y="124">Worker: ...Flexbile | State: -</tspan><tspan x="123.5" y="142.5">TID: ...5bf74f</tspan></text></g>

<!-- ROW 14 -->
<g id="get_chunk_14" transform="translate(317,5343)"><rect class="n" width="255" height="166"/><text class="t" x="127.5" y="33">get_chunk</text><text><tspan x="127.5" y="53">I/O: 18000196 - 1125000 bytes</tspan><tspan x="127.5" y="71">Time: 6245.45 - 6277.29ms</tspan><tspan x="127.5" y="88.5">CPU:2,Mem:512MB</tspan><tspan x="127.5" y="124">Worker: ...Flexbile | State: -</tspan><tspan x="127.5" y="142.5">TID: ...49b0c8</tspan></text></g>
<g id="resize_chunk_14" transform="translate(619,5343)"><rect class="n" width="247" height="166"/><text class="t" x="123.5" y="33">resize_chunk</text><text><tspan x="123.5" y="53">I/O: 1125000 - 1125000 bytes</tspan><tspan x="123.5" y="71">Time: 6277.29 - 6312.42ms</tspan><tspan x="123.5" y="88.5">CPU:2,Mem:512MB</tspan><tspan x="123.5" y="124">Worker: ...Flexbile | State: -</tspan><tspan x="123.5" y="142.5">TID: ...b54f0b</tspan></text></g>
<g id="edge_detect_chunk_14" transform="translate(623,5533)"><rect class="n" width="239" height="166"/><text class="t" x="119.5" y="33">edge_detect_chunk</text><text><tspan x="119.5" y="53">I/O: 1125000 - 375000 bytes</tspan><tspan x="119.5" y="71">Time: 6277.29 - 6310.85ms</tspan><tspan x="119.5" y="88.5">CPU:2,Mem:512MB</tspan><tspan x="119.5" y="124">Worker: ...Flexbile | State: -</tspan><tspan x="119.5" y="142.5">TID: ...6740cf</tspan></text></g>
<g id="blur_chunk_14" transform="translate(913,5343)"><rect class="n" width="246" height="166"/><text class="t" x="123" y="33">blur_chunk</text><text><tspan x="123" y="53">I/O: 1125000 - 1125000 bytes</tspan><tspan x="123" y="71">Time: 6312.42 - 6375.44ms</tspan><tspan x="123" y="88.5">CPU:2,Mem:512MB</tspan><tspan x="123" y="124">Worker: ...Flexbile | State: -</tspan><tspan x="123" y="142.5">TID: ...708354</tspan></text></g>
<g id="sharpen_chunk_14" transform="translate(919,5533)"><rect class="n" width="233" height="166"/><text class="t" x="116.5" y="33">sharpen_chunk</text><text><tspan x="116.5" y="53">I/O: 375000 - 375000 bytes</tspan><tspan x="116.5" y="71">Time: 6310.85 - 6344.88ms</tspan><tspan x="116.5" y="88.5">CPU:2,Mem:512MB</tspan><tspan x="116.5" y="124">Worker: ...Flexbile | State: -</tspan><tspan x="116.5" y="142.5">TID: ...f904e8</tspan></text></g>
<g id="normalize_chunk_14" transform="translate(1206,5343)"><rect class="n" width="246" height="166"/><text class="t" x="123" y="33">normalize_chunk</text><text><tspan x="123" y="53">I/O: 1125000 - 1125000 bytes</tspan><tspan x="123" y="71">Time: 6375.44 - 6413.56ms</tspan><tspan x="123" y="88.5">CPU:2,Mem:512MB</tspan><tspan x="123" y="124">Worker: ...Flexbile | State: -</tspan><tspan x="123" y="142.5">TID: ...daaa5d</tspan></text></g>
<g id="sepia_chunk_14" transform="translate(1500,5343)"><rect class="n" width="246" height="166"/><text class="t" x="123" y="33">sepia_chunk</text><text><tspan x="123" y="53">I/O: 1125000 - 1125000 bytes</tspan><tspan x="123" y="71">Time: 6413.56 - 6458.02ms</tspan><tspan x="123" y="88.5">CPU:2,Mem:512MB</tspan><tspan x="123" y="124">Worker: ...Flexbile | State: -</tspan><tspan x="123" y="142.5">TID: ...8d86a8</tspan></text></g>
<g id="combine_chunk_14" transform="translate(1794,5343)"><rect class="n" width="247" height="166"/><text class="t" x="123.5" y="33">combine_chunk</text><text><tspan x="123.5" y="53">I/O: 1500000 - 1125000 bytes</tspan><tspan x="123.5" y="71">Time: 6458.02 - 6495.57ms</tspan><tspan x="123.5" y="88.5">CPU:2,Mem:512MB</tspan><tspan x="123.5" y="124">Worker: ...Flexbile | State: -</tspan><tspan x="123.5" y="142.5">TID: ...1ebae0</tspan></text></g>

<!-- ROW 15 -->
<g id="get_chunk_15" transform="translate(317,5725)"><rect class="n" width="255" height="166"/><text class="t" x="127.5" y="33">get_chunk</text><text><tspan x="127.5" y="53">I/O: 18000196 - 1125000 bytes</tspan><tspan x="127.5" y="71">Time: 6245.45 - 6277.29ms</tspan><tspan x="127.5" y="88.5">CPU:2,Mem:512MB</tspan><tspan x="127.5" y="124">Worker: ...Flexbile | State: -</tspan><tspan x="127.5" y="142.5">TID: ...fa24d1</tspan></text></g>
<g id="resize_chunk_15" transform="translate(619,5725)"><rect class="n" width="247" height="166"/><text class="t" x="123.5" y="33">resize_chunk</text><text><tspan x="123.5" y="53">I/O: 1125000 - 1125000 bytes</tspan><tspan x="123.5" y="71">Time: 6277.29 - 6312.42ms</tspan><tspan x="123.5" y="88.5">CPU:2,Mem:512MB</tspan><tspan x="123.5" y="124">Worker: ...Flexbile | State: -</tspan><tspan x="123.5" y="142.5">TID: ...3dba16</tspan></text></g>
<g id="edge_detect_chunk_15" transform="translate(623,5915)"><rect class="n" width="239" height="166"/><text class="t" x="119.5" y="33">edge_detect_chunk</text><text><tspan x="119.5" y="53">I/O: 1125000 - 375000 bytes</tspan><tspan x="119.5" y="71">Time: 6277.29 - 6310.85ms</tspan><tspan x="119.5" y="88.5">CPU:2,Mem:512MB</tspan><tspan x="119.5" y="124">Worker: ...Flexbile | State: -</tspan><tspan x="119.5" y="142.5">TID: ...bb78fb</tspan></text></g>
<g id="blur_chunk_15" transform="translate(913,5725)"><rect class="n" width="246" height="166"/><text class="t" x="123" y="33">blur_chunk</text><text><tspan x="123" y="53">I/O: 1125000 - 1125000 bytes</tspan><tspan x="123" y="71">Time: 6312.42 - 6375.44ms</tspan><tspan x="123" y="88.5">CPU:2,Mem:512MB</tspan><tspan x="123" y="124">Worker: ...Flexbile | State: -</tspan><tspan x="123" y="142.5">TID: ...f31d13</tspan></text></g>
<g id="sharpen_chunk_15" transform="translate(919,5915)"><rect class="n" width="233" height="166"/><text class="t" x="116.5" y="33">sharpen_chunk</text><text><tspan x="116.5" y="53">I/O: 375000 - 375000 bytes</tspan><tspan x="116.5" y="71">Time: 6310.85 - 6344.88ms</tspan><tspan x="116.5" y="88.5">CPU:2,Mem:512MB</tspan><tspan x="116.5" y="124">Worker: ...Flexbile | State: -</tspan><tspan x="116.5" y="142.5">TID: ...5831cb</tspan></text></g>
<g id="normalize_chunk_15" transform="translate(1206,5725)"><rect class="n" width="246" height="166"/><text class="t" x="123" y="33">normalize_chunk</text><text><tspan x="123" y="53">I/O: 1125000 - 1125000 bytes</tspan><tspan x="123" y="71">Time: 6375.44 - 6413.56ms</tspan><tspan x="123" y="88.5">CPU:2,Mem:512MB</tspan><tspan x="123" y="124">Worker: ...Flexbile | State: -</tspan><tspan x="123" y="142.5">TID: ...5f0f58</tspan></text></g>
<g id="sepia_chunk_15" transform="translate(1500,5725)"><rect class="n" width="246" height="166"/><text class="t" x="123" y="33">sepia_chunk</text><text><tspan x="123" y="53">I/O: 1125000 - 1125000 bytes</tspan><tspan x="123" y="71">Time: 6413.56 - 6458.02ms</tspan><tspan x="123" y="88.5">CPU:2,Mem:512MB</tspan><tspan x="123" y="124">Worker: ...Flexbile | State: -</tspan><tspan x="123" y="142.5">TID: ...2a03cc</tspan></text></g>
<g id="combine_chunk_15" transform="translate(1794,5725)"><rect class="n" width="247" height="166"/><text class="t" x="123.5" y="33">combine_chunk</text><text><tspan x="123.5" y="53">I/O: 1500000 - 1125000 bytes</tspan><tspan x="123.5" y="71">Time: 6458.02 - 6495.57ms</tspan><tspan x="123.5" y="88.5">CPU:2,Mem:512MB</tspan><tspan x="123.5" y="124">Worker: ...Flexbile | State: -</tspan><tspan x="123.5" y="142.5">TID: ...af7b52</tspan></text></g>
</g>
</svg>
